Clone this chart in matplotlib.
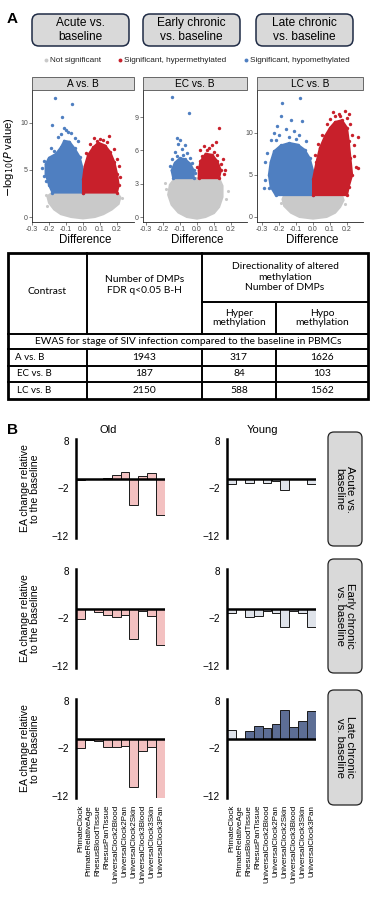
import matplotlib
matplotlib.use("Agg")
import matplotlib.pyplot as plt
from matplotlib.patches import FancyBboxPatch, Rectangle

plt.rcParams['font.family'] = ['Liberation Sans', 'DejaVu Sans']

# ---------------- data ----------------
stage_titles = ["Acute vs.\nbaseline", "Early chronic\nvs. baseline", "Late chronic\nvs. baseline"]
legend_labels = ["Not significant", "Significant, hypermethylated", "Significant, hypomethylated"]
strip_labels = ["A vs. B", "EC vs. B", "LC vs. B"]

# Volcano plots: dense-cloud outlines (x=difference, y=-log10 P) and sparse points
grayA_x = [0.0, -0.07, -0.13, -0.17, -0.20, -0.21, -0.18, 0.20, 0.22, 0.21, 0.17, 0.12, 0.07]
grayA_y = [-0.15, 0.0, 0.3, 0.8, 1.5, 2.2, 2.6, 2.6, 2.1, 1.4, 0.8, 0.3, 0.0]
blueA_x = [-0.18, 0.0, 0.0, -0.02, -0.05, -0.08, -0.11, -0.13, -0.16, -0.20, -0.22, -0.22, -0.20]
blueA_y = [2.6, 2.6, 5.0, 6.4, 7.3, 8.0, 8.1, 7.4, 6.7, 6.3, 5.6, 4.6, 3.4]
redA_x = [0.0, 0.20, 0.21, 0.20, 0.185, 0.16, 0.13, 0.09, 0.06, 0.03, 0.01, 0.0]
redA_y = [2.6, 2.6, 3.4, 4.6, 5.8, 6.9, 7.6, 7.9, 7.4, 6.6, 5.4, 4.0]
blueA_px = [-0.165, -0.065, -0.125, -0.18, -0.11, -0.10, -0.09, -0.07, -0.13, -0.15, -0.05, -0.19, -0.23, -0.24, -0.23, -0.215, -0.03, -0.17]
blueA_py = [12.7, 12.0, 10.6, 9.8, 9.5, 9.2, 9.0, 8.9, 8.8, 8.5, 8.4, 7.3, 6.0, 5.2, 4.4, 3.8, 8.1, 7.0]
redA_px = [0.15, 0.065, 0.10, 0.08, 0.14, 0.18, 0.20, 0.21, 0.22, 0.04, 0.12, 0.02]
redA_py = [8.6, 8.4, 8.3, 8.1, 8.0, 7.2, 6.2, 5.4, 4.2, 7.8, 8.2, 6.8]
grayA_px = [-0.22, 0.23, -0.21]
grayA_py = [2.3, 2.0, 1.2]

grayEC_x = [0.0, -0.06, -0.11, -0.15, -0.17, -0.16, -0.13, 0.13, 0.15, 0.15, 0.13, 0.10, 0.05]
grayEC_y = [-0.15, 0.0, 0.4, 1.1, 2.0, 2.9, 3.5, 3.5, 2.8, 1.8, 0.9, 0.35, 0.0]
blueEC_x = [-0.14, -0.02, -0.02, -0.04, -0.07, -0.10, -0.13, -0.15]
blueEC_y = [3.5, 3.5, 4.2, 4.8, 5.2, 5.3, 4.9, 4.2]
redEC_x = [0.01, 0.13, 0.14, 0.12, 0.09, 0.05, 0.02, 0.01]
redEC_y = [3.5, 3.5, 4.2, 5.0, 5.6, 5.7, 5.0, 4.2]
blueEC_px = [-0.15, -0.05, -0.12, -0.10, -0.11, -0.07, -0.09, -0.13, -0.06, -0.12, -0.08, -0.04, -0.15, -0.16, -0.03, -0.01]
blueEC_py = [10.8, 9.4, 7.1, 6.9, 6.6, 6.5, 6.1, 5.9, 5.8, 5.5, 5.6, 5.3, 5.2, 4.6, 4.9, 4.0]
redEC_px = [0.13, 0.02, 0.04, 0.07, 0.09, 0.10, 0.06, 0.12, 0.165, 0.16, 0.14, 0.03, 0.11, 0.0, 0.15]
redEC_py = [8.0, 6.0, 6.4, 6.2, 6.5, 5.9, 6.0, 5.6, 4.2, 3.9, 4.8, 5.5, 6.8, 4.5, 5.2]
grayEC_px = [0.18, 0.17, -0.19, -0.18]
grayEC_py = [2.3, 1.6, 3.1, 2.5]

grayLC_x = [0.0, -0.08, -0.13, -0.17, -0.18, -0.17, 0.17, 0.18, 0.16, 0.13, 0.08]
grayLC_y = [-0.2, 0.0, 0.5, 1.3, 2.1, 2.6, 2.6, 2.0, 1.2, 0.5, 0.0]
blueLC_x = [-0.22, 0.0, 0.0, -0.02, -0.05, -0.09, -0.14, -0.19, -0.23, -0.25, -0.26, -0.25]
blueLC_y = [2.6, 2.6, 5.5, 7.0, 8.0, 8.6, 8.8, 8.5, 7.8, 6.5, 5.0, 3.6]
redLC_x = [0.0, 0.20, 0.21, 0.23, 0.22, 0.21, 0.20, 0.17, 0.13, 0.10, 0.07, 0.04, 0.02, 0.0]
redLC_y = [2.6, 2.6, 3.6, 5.0, 7.0, 9.0, 10.6, 11.5, 11.3, 10.6, 9.6, 8.2, 6.5, 4.5]
blueLC_px = [-0.075, -0.18, -0.19, -0.13, -0.065, -0.21, -0.16, -0.11, -0.23, -0.20, -0.08, -0.14, -0.25, -0.04, -0.10, -0.27, -0.28, -0.25, -0.28, -0.26, -0.29, -0.22]
blueLC_py = [14.2, 13.6, 12.0, 11.5, 11.4, 10.8, 10.5, 10.2, 10.0, 9.8, 9.7, 9.5, 9.1, 9.0, 9.3, 7.6, 6.5, 5.2, 4.4, 3.4, 3.4, 9.2]
redLC_px = [0.12, 0.15, 0.19, 0.21, 0.20, 0.16, 0.10, 0.08, 0.265, 0.265, 0.20, 0.24, 0.25, 0.24, 0.05, 0.03, 0.13, 0.22, 0.23, 0.01]
redLC_py = [12.5, 12.3, 12.6, 12.3, 11.8, 12.0, 11.6, 11.0, 9.5, 5.8, 4.0, 7.2, 6.0, 8.6, 9.8, 8.7, 12.0, 11.0, 9.8, 7.4]
grayLC_px = [-0.165, -0.19, 0.19]
grayLC_py = [2.3, 1.7, 1.5]

volcano_yticks = [[0, 5, 10], [0, 3, 6, 9], [0, 5, 10]]
volcano_xticks = [-0.3, -0.2, -0.1, 0.0, 0.1, 0.2]

# Table
table_header = ["Contrast", "Number of DMPs\nFDR q<0.05 B-H",
                "Directionality of altered\nmethylation\nNumber of DMPs",
                "Hyper\nmethylation", "Hypo\nmethylation"]
table_section = "EWAS for stage of SIV infection compared to the baseline in PBMCs"
table_contrasts = ["A vs. B", "EC vs. B", "LC vs. B"]
table_total = [1943, 187, 2150]
table_hyper = [317, 84, 588]
table_hypo = [1626, 103, 1562]

# Epigenetic age bars
clocks = ["PrimateClock", "PrimateRelativeAge", "RhesusBloodTissue", "RhesusPanTissue",
          "UniversalClock2Blood", "UniversalClock2Pan", "UniversalClock2Skin",
          "UniversalClock3Blood", "UniversalClock3Skin", "UniversalClock3Pan"]
old_acute = [-0.3, 0.0, 0.05, 0.3, 0.9, 1.4, -5.4, 0.7, 1.3, -7.6]
old_early = [-2.1, 0.0, -0.7, -1.2, -1.6, -1.3, -6.4, -0.5, -1.5, -7.5]
old_late = [-1.9, -0.15, -0.4, -1.75, -1.75, -1.5, -10.2, -2.6, -1.75, -13.0]
young_acute = [-1.1, 0.0, -0.8, 0.0, -0.8, -0.5, -2.4, -0.1, 0.0, -1.1]
young_early = [-0.9, 0.0, -1.6, -1.4, -0.4, -0.8, -3.7, -0.35, -0.8, -3.7]
young_late = [1.95, 0.0, 1.7, 2.8, 2.3, 3.2, 6.1, 2.6, 3.7, 5.9]
young_late_sig = [False, False, True, True, True, True, True, True, True, True]
bar_yticks = [8, -2, -12]
group_titles = ["Old", "Young"]
row_titles = ["Acute vs.\nbaseline", "Early chronic\nvs. baseline", "Late chronic\nvs. baseline"]

# ---------------- styles ----------------
C_GRAY = "#c9c9c9"
C_RED = "#c8202b"
C_BLUE = "#4f7fc1"
C_OLD = "#f3c1c1"
C_YOUNG = "#dfe3ea"
C_YOUNG_SIG = "#5d6e95"
TABLE_FONT = ['Lato', 'DejaVu Sans']

W, H = 375, 900
fig = plt.figure(figsize=(3.75, 9), dpi=100)


def add_ax(x0, y0, x1, y1, **kw):
    return fig.add_axes([x0 / W, 1 - y1 / H, (x1 - x0) / W, (y1 - y0) / H], **kw)


ov = add_ax(0, 0, W, H, zorder=5)
ov.set_xlim(0, W)
ov.set_ylim(H, 0)
ov.axis('off')

# panel letters
ov.text(12, 19, "A", fontsize=11, fontweight='bold', ha='center', va='center')
ov.text(12, 430, "B", fontsize=11, fontweight='bold', ha='center', va='center')

# top stage boxes
box_x = [32, 143, 256]
for bx, t in zip(box_x, stage_titles):
    ov.add_patch(FancyBboxPatch((bx, 14), 97, 32, boxstyle="round,pad=0,rounding_size=7",
                                fc="#d9d9d9", ec="#1f2b45", lw=1.1))
    ov.text(bx + 48.5, 30, t, ha='center', va='center', fontsize=8.6, linespacing=1.15)

# legend
leg_x = [46, 120, 246]
leg_c = [C_GRAY, C_RED, C_BLUE]
for lx, lc, lt in zip(leg_x, leg_c, legend_labels):
    ov.plot(lx, 60, 'o', ms=2.8, color=lc, mec='none')
    ov.text(lx + 4.5, 60.5, lt, fontsize=5.9, va='center', ha='left', color='#222222')

# volcano panels
vol = [
    (grayA_x, grayA_y, blueA_x, blueA_y, redA_x, redA_y, grayA_px, grayA_py, blueA_px, blueA_py, redA_px, redA_py),
    (grayEC_x, grayEC_y, blueEC_x, blueEC_y, redEC_x, redEC_y, grayEC_px, grayEC_py, blueEC_px, blueEC_py, redEC_px, redEC_py),
    (grayLC_x, grayLC_y, blueLC_x, blueLC_y, redLC_x, redLC_y, grayLC_px, grayLC_py, blueLC_px, blueLC_py, redLC_px, redLC_py),
]
vol_box = [(32, 134), (143, 247), (257, 363)]
vol_xlim = [(-0.30, 0.30), (-0.318, 0.294), (-0.33, 0.294)]
vol_ylim = [(-0.53, 13.5), (-0.45, 11.44), (-0.6, 15.1)]
for i in range(3):
    x0, x1 = vol_box[i]
    ax = add_ax(x0, 90, x1, 222)
    gx, gy, bx_, by, rx, ry, gpx, gpy, bpx, bpy, rpx, rpy = vol[i]
    ax.fill(gx, gy, color=C_GRAY, lw=1.5, ec=C_GRAY, zorder=1)
    ax.scatter(gpx, gpy, s=5, color=C_GRAY, lw=0, zorder=1)
    ax.fill(bx_, by, color=C_BLUE, lw=1.5, ec=C_BLUE, zorder=2)
    ax.scatter(bx_, by, s=6, color=C_BLUE, lw=0, zorder=2)
    ax.scatter(bpx, bpy, s=6, color=C_BLUE, lw=0, zorder=2)
    ax.fill(rx, ry, color=C_RED, lw=1.5, ec=C_RED, zorder=2)
    ax.scatter(rx, ry, s=6, color=C_RED, lw=0, zorder=2)
    ax.scatter(rpx, rpy, s=6, color=C_RED, lw=0, zorder=2)
    ax.set_xlim(*vol_xlim[i])
    ax.set_ylim(*vol_ylim[i])
    ax.set_xticks(volcano_xticks)
    ax.set_xticklabels(["%.1f" % v if v >= 0 else "-%.1f" % abs(v) for v in volcano_xticks])
    ax.set_yticks(volcano_yticks[i])
    ax.set_yticklabels([str(v) for v in volcano_yticks[i]])
    ax.tick_params(labelsize=5, colors='#4d4d4d', length=2, width=0.5, pad=1)
    for s in ['top', 'right']:
        ax.spines[s].set_visible(False)
    for s in ['left', 'bottom']:
        ax.spines[s].set_linewidth(0.6)
        ax.spines[s].set_color('#222222')
    ax.patch.set_alpha(0)
    # strip
    ov.add_patch(Rectangle((x0, 77), x1 - x0, 13, fc="#d9d9d9", ec="#333333", lw=0.5))
    ov.text((x0 + x1) / 2, 83.8, strip_labels[i], ha='center', va='center', fontsize=7.3)
    ov.text((x0 + x1) / 2 + 2, 240, "Difference", ha='center', va='center', fontsize=8.3)

ov.text(9, 157, r"$-$log$_{10}$($P$ value)", rotation=90, ha='center', va='center', fontsize=8)

# ---------------- table ----------------
tl, tr, tt, tb = 8, 368, 253, 399
c1, c2, c3 = 87, 202, 276
r_sub, r_sec1, r_sec2, r_a, r_b = 302, 334, 349, 366, 382
lw_out, lw_in = 2.0, 1.4
ov.add_patch(Rectangle((tl, tt), tr - tl, tb - tt, fill=False, ec='black', lw=lw_out))
for yy in [r_sec1, r_sec2]:
    ov.plot([tl, tr], [yy, yy], color='black', lw=lw_in)
for yy in [r_a, r_b]:
    ov.plot([tl, tr], [yy, yy], color='black', lw=lw_in)
ov.plot([c2, tr], [r_sub, r_sub], color='black', lw=lw_in)
for xx in [c1, c2]:
    ov.plot([xx, xx], [tt, r_sec1], color='black', lw=lw_in)
    ov.plot([xx, xx], [r_sec2, tb], color='black', lw=lw_in)
ov.plot([c3, c3], [r_sub, r_sec1], color='black', lw=lw_in)
ov.plot([c3, c3], [r_sec2, tb], color='black', lw=lw_in)

tfs = 7.4
ov.text((tl + c1) / 2, 291, table_header[0], ha='center', va='center', fontsize=tfs, family=TABLE_FONT)
ov.text((c1 + c2) / 2, 285, table_header[1], ha='center', va='center', fontsize=tfs, family=TABLE_FONT, linespacing=1.2)
ov.text((c2 + tr) / 2, 277, table_header[2], ha='center', va='center', fontsize=tfs, family=TABLE_FONT, linespacing=1.2)
ov.text((c2 + c3) / 2, 318, table_header[3], ha='center', va='center', fontsize=tfs, family=TABLE_FONT, linespacing=1.1)
ov.text((c3 + tr) / 2, 318, table_header[4], ha='center', va='center', fontsize=tfs, family=TABLE_FONT, linespacing=1.1)
ov.text((tl + tr) / 2, 342, table_section, ha='center', va='center', fontsize=tfs, family=TABLE_FONT)
row_y = [357.5, 374, 390.5]
for k in range(3):
    ov.text(15 if k == 0 else 17, row_y[k], table_contrasts[k], ha='left', va='center', fontsize=tfs - 0.4, family=TABLE_FONT)
    ov.text((c1 + c2) / 2, row_y[k], str(table_total[k]), ha='center', va='center', fontsize=tfs, family=TABLE_FONT)
    ov.text((c2 + c3) / 2, row_y[k], str(table_hyper[k]), ha='center', va='center', fontsize=tfs, family=TABLE_FONT)
    ov.text((c3 + tr) / 2, row_y[k], str(table_hypo[k]), ha='center', va='center', fontsize=tfs, family=TABLE_FONT)

# ---------------- bars ----------------
old_vals = [old_acute, old_early, old_late]
young_vals = [young_acute, young_early, young_late]
col_x = [(76, 165), (227, 316)]
ov.text(108, 430, group_titles[0], ha='center', va='center', fontsize=8)
ov.text(262, 430, group_titles[1], ha='center', va='center', fontsize=8)
strip_rows = [(432, 546), (559, 673), (690, 805)]
xpos = list(range(len(clocks)))
for r in range(3):
    y8 = 441 + 130 * r
    y12 = 536 + 130 * r
    ppu = (y12 - y8) / 20.0
    for cidx in range(2):
        x0, x1 = col_x[cidx]
        ax = add_ax(x0, y8 - 0.4 * ppu, x1, y12 + 0.4 * ppu)
        vals = old_vals[r] if cidx == 0 else young_vals[r]
        if cidx == 0:
            cols = [C_OLD] * len(vals)
        elif r == 2:
            cols = [C_YOUNG_SIG if s else C_YOUNG for s in young_late_sig]
        else:
            cols = [C_YOUNG] * len(vals)
        ax.bar(xpos, vals, width=1.0, color=cols, edgecolor='#1a1a1a', lw=0.7, zorder=2)
        ax.axhline(0, color='black', lw=1.8, zorder=3)
        ax.set_xlim(-0.5, 9.5)
        ax.set_ylim(-12.4, 8.4)
        ax.set_yticks(bar_yticks)
        ax.set_yticklabels(["8", "\u22122", "\u221212"])
        ax.tick_params(axis='y', length=0, labelsize=7.2, pad=5)
        for s in ['top', 'right', 'bottom']:
            ax.spines[s].set_visible(False)
        ax.spines['left'].set_linewidth(1.8)
        ax.patch.set_alpha(0)
        if r == 2:
            ax.set_xticks(xpos)
            ax.set_xticklabels(clocks, rotation=90, fontsize=5.8)
            ax.tick_params(axis='x', length=0, pad=5)
        else:
            ax.set_xticks([])
        if cidx == 0:
            ov.text(30, (y8 + y12) / 2, "EA change relative\nto the baseline", rotation=90,
                    ha='center', va='center', fontsize=7.6, linespacing=1.05)
    sy0, sy1 = strip_rows[r]
    ov.add_patch(FancyBboxPatch((328, sy0), 34, sy1 - sy0, boxstyle="round,pad=0,rounding_size=6",
                                fc="#d9d9d9", ec="#222222", lw=0.9))
    ov.text(345, (sy0 + sy1) / 2, row_titles[r], rotation=270, ha='center', va='center',
            fontsize=8.2, linespacing=1.1)

fig.savefig("out.png", dpi=100)
